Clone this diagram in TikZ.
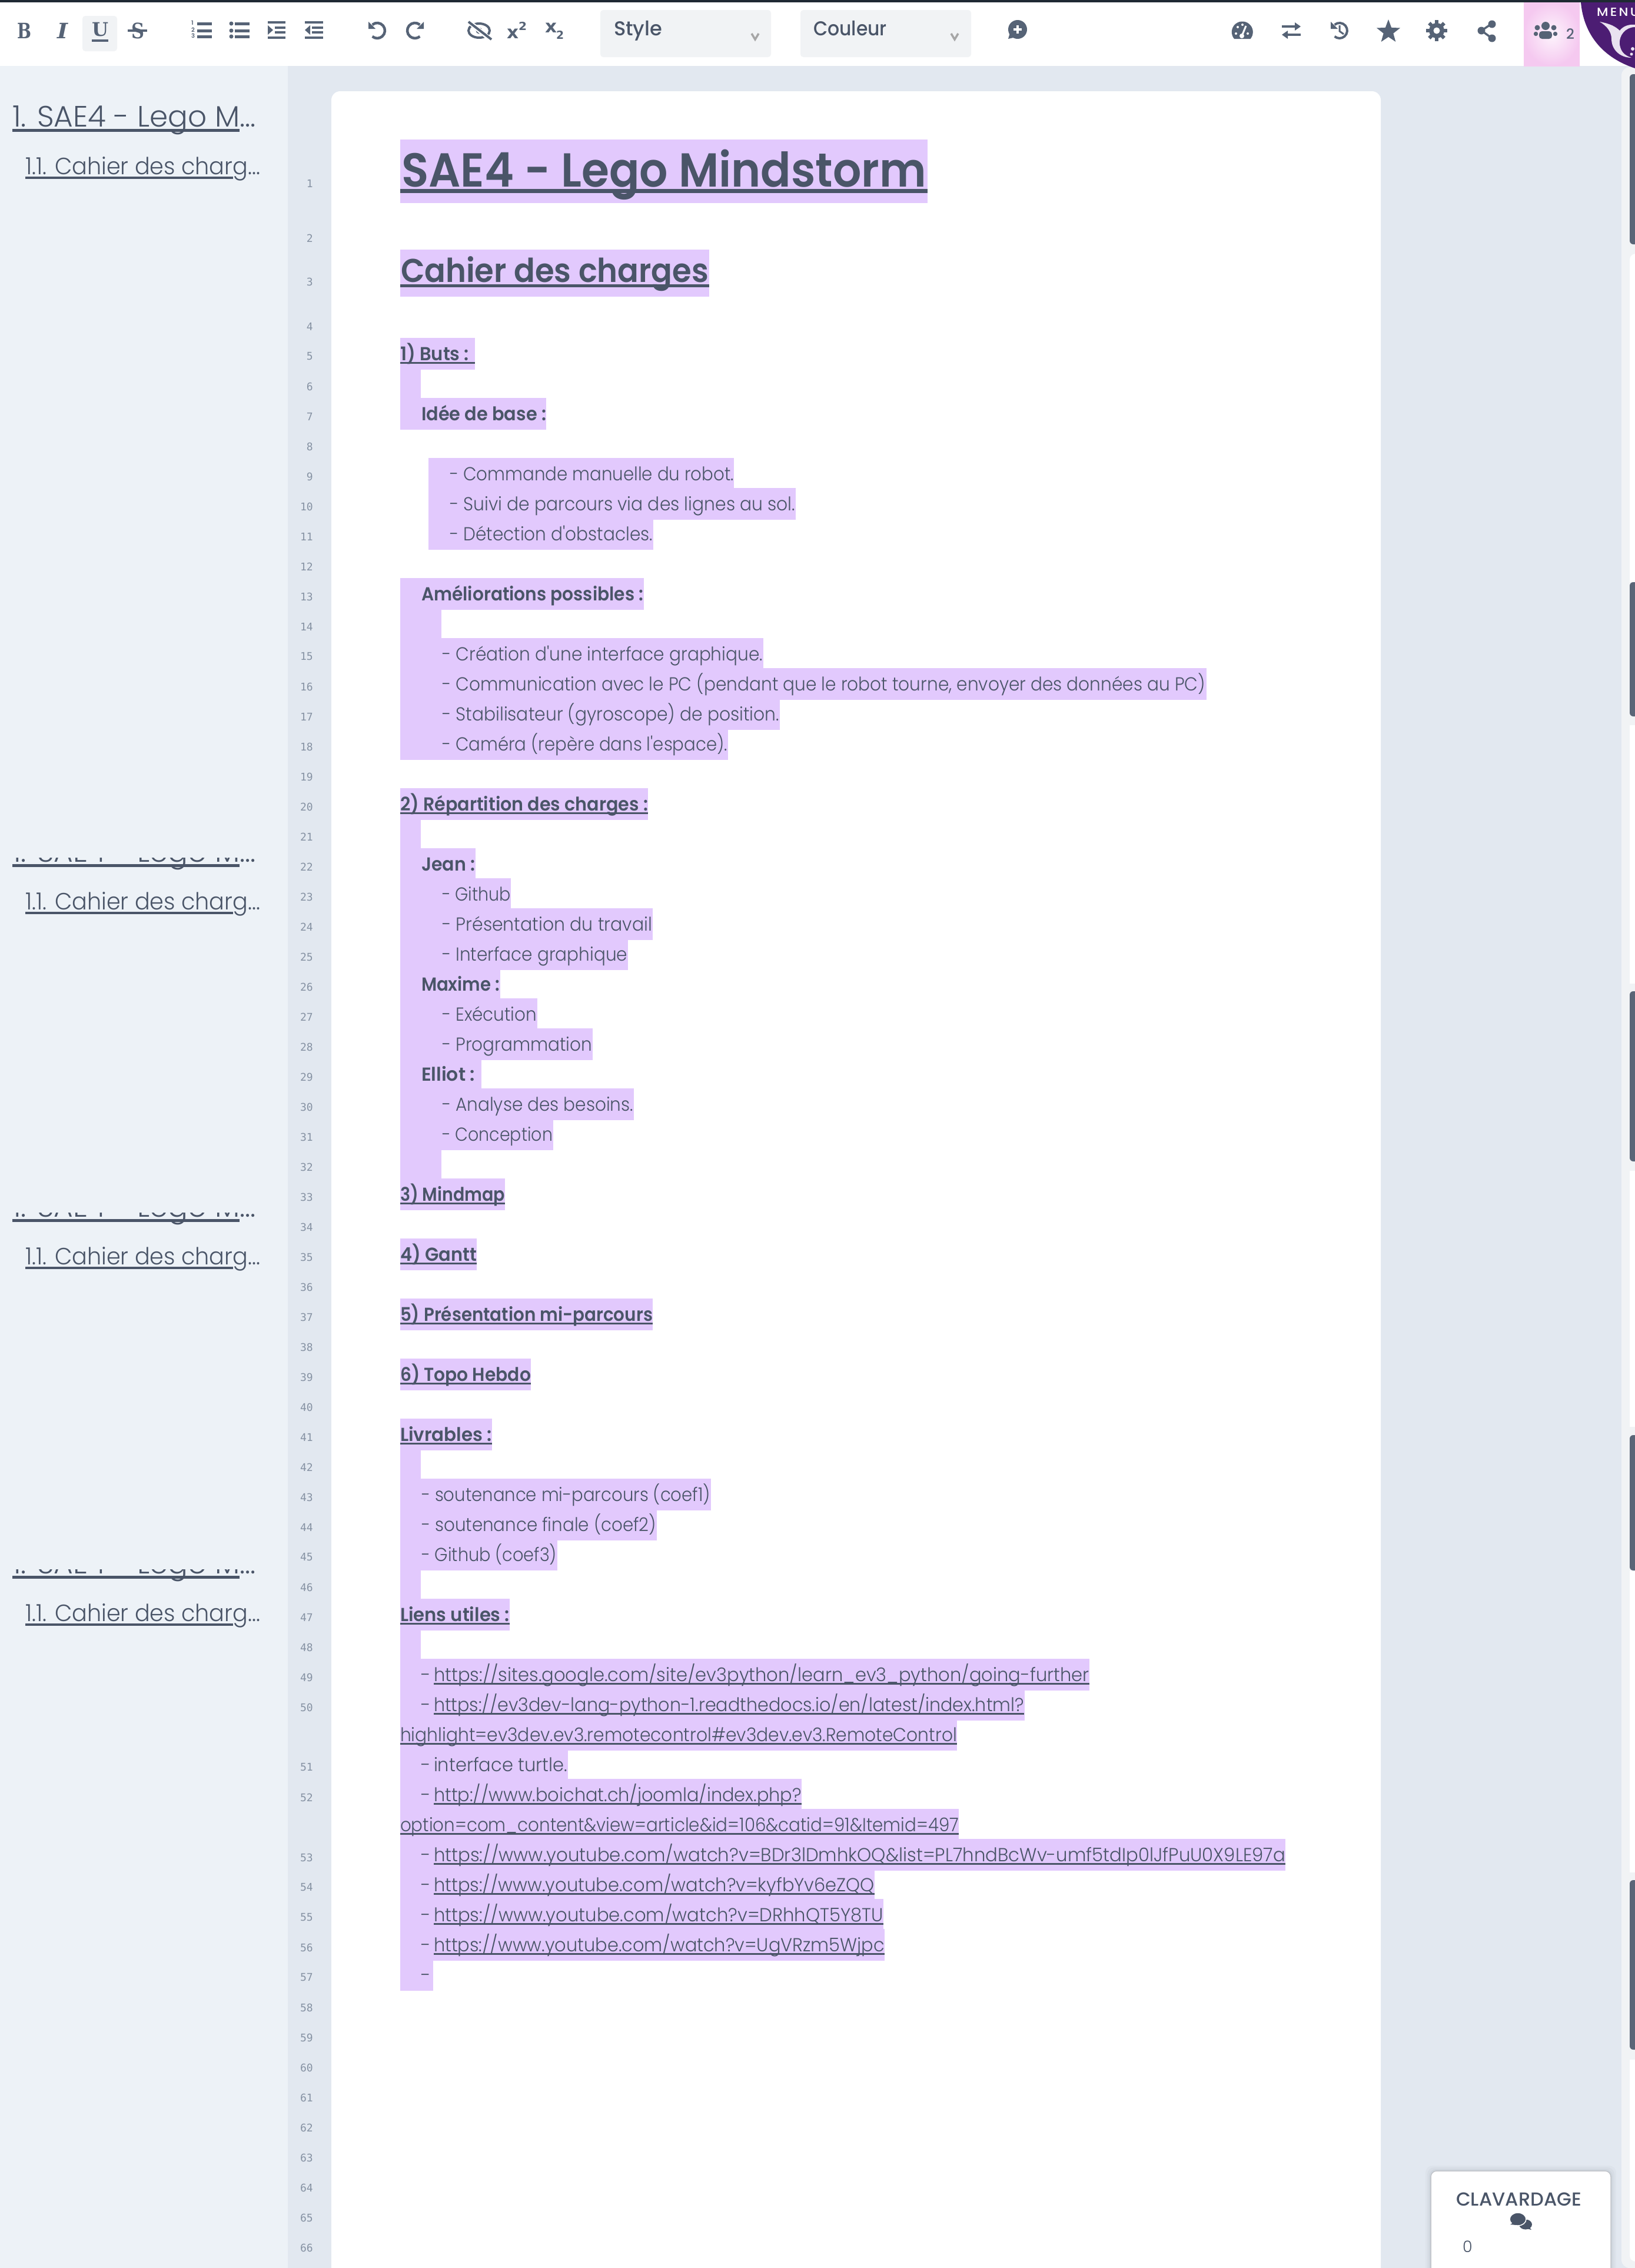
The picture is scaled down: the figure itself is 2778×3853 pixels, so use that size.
\documentclass[tikz,border=0pt]{standalone}
\usepackage{fontspec}
\usepackage{graphicx}
\usetikzlibrary{shapes.geometric}
\setmainfont{Poppins}
\newfontfamily\plig{Poppins Light}
\newfontfamily\pmed{Poppins Medium}
\newfontfamily\psem{Poppins SemiBold}
\newfontfamily\gm{DejaVu Sans Mono}
\newfontfamily\dsb{DejaVu Serif}
\newfontfamily\dss{DejaVu Sans}
\definecolor{ink}{HTML}{4A5568}
\definecolor{icn}{HTML}{566376}
\definecolor{hlc}{HTML}{E2C9FD}
\definecolor{bgm}{HTML}{E2E8F0}
\definecolor{bgs}{HTML}{EDF2F7}
\definecolor{trk}{HTML}{F1F3F5}
\definecolor{thb}{HTML}{5A6577}
\definecolor{gut}{HTML}{8692A3}
\definecolor{pinka}{HTML}{FDF4FC}
\definecolor{pinkb}{HTML}{F5C9F0}
\definecolor{logop}{HTML}{4C1D73}
\definecolor{logow}{HTML}{E9E2F0}
\definecolor{topb}{HTML}{1F2933}
\newcommand{\bodyf}{\plig\fontsize{32}{36}\selectfont}
\newcommand{\headf}{\psem\fontsize{32}{36}\selectfont}
\newcommand{\hlr}[4]{\fill[hlc] (#1,#3) rectangle (#2,#4);}
\newcommand{\tx}[5]{\pgfmathsetmacro{\tw}{#2-(#1)}%
  \node[txtn] at (#1,#3) {\resizebox{\tw pt}{\height}{#4#5}};}
\tikzset{txtn/.style={anchor=base west,inner sep=0pt,outer sep=0pt,text=ink},
  ics/.style={draw=icn,line width=4pt}}
\begin{document}
\begin{tikzpicture}[x=1pt,y=-1pt]
\useasboundingbox (0,0) rectangle (2778,3853);
% backgrounds
\fill[bgm] (0,0) rectangle (2778,3853);
\fill[bgs] (0,112) rectangle (489,3853);
\begin{scope}
\clip (0,0) rectangle (2778,3853);
\fill[white,rounded corners=15pt] (563,155) rectangle (2346,3900);
\end{scope}
\fill[white] (0,0) rectangle (2778,112);
\fill[topb] (0,0) rectangle (2778,4);
% right scrollbar
\begin{scope}
\clip (0,0) rectangle (2778,3853);
\fill[trk,rounded corners=14pt] (2755,114) rectangle (2800,3853);
\fill[white,rounded corners=10pt] (2769,431) rectangle (2800,3842);
\foreach \a/\b in {989/1232,1671/1989,2424/2668,3181/3499}{\fill[trk] (2769,\a) rectangle (2778,\b);}
\foreach \a/\b in {126/415,989/1217,1684/1973,2438/2668,3194/3482}{\fill[thb,rounded corners=6pt] (2769,\a) rectangle (2800,\b);}
\end{scope}
% toolbar : text style
\fill[trk,rounded corners=5pt] (140,27) rectangle (199,87);
\fill[trk,rounded corners=5pt] (1020,17) rectangle (1310,97);
\fill[trk,rounded corners=5pt] (1360,17) rectangle (1650,97);
\tx{30}{54}{65}{\dsb\bfseries\fontsize{36}{40}\selectfont\color{icn}}{B}
\tx{97}{115}{65}{\dsb\bfseries\itshape\fontsize{36}{40}\selectfont\color{icn}}{I}
\tx{156}{184}{61}{\dsb\bfseries\fontsize{32}{36}\selectfont\color{icn}}{U}
\fill[icn] (156,67) rectangle (184,71);
\tx{223}{245}{65}{\dsb\bfseries\fontsize{36}{40}\selectfont\color{icn}}{S}
\fill[icn] (217,50) rectangle (250,54);
% ordered list
\foreach \y in {40,52,62}{\fill[icn] (335,\y-2.5) rectangle (360,\y+2.5);}
\foreach \y/\t in {42/1,54/2,64/3}{\node[txtn,text=icn,font=\psem\fontsize{10}{10}\selectfont] at (325,\y) {\t};}
% unordered list
\foreach \y in {40,52,62}{\fill[icn] (399,\y-2.5) rectangle (424,\y+2.5); \fill[icn] (393,\y) circle[radius=3.5pt];}
% indent
\fill[icn] (455,36) rectangle (485,40); \fill[icn] (455,62) rectangle (485,66);
\fill[icn] (467,45) rectangle (485,49); \fill[icn] (467,53) rectangle (485,57);
\fill[icn] (455,43)--(464,51)--(455,59)--cycle;
% outdent
\fill[icn] (518,36) rectangle (549,40); \fill[icn] (518,62) rectangle (549,66);
\fill[icn] (530,45) rectangle (549,49); \fill[icn] (530,53) rectangle (549,57);
\fill[icn] (527,43)--(518,51)--(527,59)--cycle;
% undo / redo
\draw[ics,line width=4.5pt] (632.6,42) arc[start angle=130,end angle=-130,radius=13pt];
\fill[icn] (626,37)--(638,49)--(626,49)--cycle;
\draw[ics,line width=4.5pt] (713.4,42) arc[start angle=50,end angle=310,radius=13pt];
\fill[icn] (720,37)--(708,49)--(720,49)--cycle;
% eye slash
\draw[ics] (814,52) ellipse[x radius=18pt,y radius=12pt];
\fill[icn] (814,52) circle[radius=5.5pt];
\draw[white,line width=8pt] (798,38)--(832,66);
\draw[ics] (796,37)--(835,67);
% x^2 x_2
\tx{861}{881}{65}{\dss\bfseries\fontsize{30}{32}\selectfont\color{icn}}{x}
\tx{881}{895}{51}{\dss\bfseries\fontsize{19}{20}\selectfont\color{icn}}{2}
\tx{926}{946}{55}{\dss\bfseries\fontsize{30}{32}\selectfont\color{icn}}{x}
\tx{945}{958}{66}{\dss\bfseries\fontsize{19}{20}\selectfont\color{icn}}{2}
% selects
\tx{1043}{1125}{60}{\pmed\fontsize{34}{38}\selectfont}{Style}
\tx{1382}{1507}{60}{\pmed\fontsize{34}{38}\selectfont}{Couleur}
\draw[gray!70,line width=3.5pt] (1277,57)--(1283,67)--(1289,57);
\draw[gray!70,line width=3.5pt] (1616,57)--(1622,67)--(1628,57);
% comment plus
\fill[icn] (1729,50) circle[radius=16pt];
\fill[icn] (1716,56)--(1713,66)--(1726,63)--cycle;
\draw[white,line width=4pt] (1729,43)--(1729,57) (1722,50)--(1736,50);
% tachometer
\fill[icn] (2097,66) arc[start angle=220,end angle=-40,radius=18pt] -- cycle;
\draw[white,line width=3pt] (2110,61)--(2117,44);
\fill[white] (2110,61) circle[radius=4pt] (2100,57) circle[radius=2pt] (2103,46) circle[radius=2pt] (2111,42) circle[radius=2pt] (2120,57) circle[radius=2pt];
% exchange
\fill[icn] (2178,43) rectangle (2200,47); \fill[icn] (2200,38)--(2210,45)--(2200,52)--cycle;
\fill[icn] (2188,57) rectangle (2210,61); \fill[icn] (2188,52)--(2178,59)--(2188,66)--cycle;
% history
\draw[ics] (2267.6,42) arc[start angle=130,end angle=-130,radius=13pt];
\fill[icn] (2261,37)--(2273,49)--(2261,49)--cycle;
\draw[icn,line width=3pt] (2276,43)--(2276,53)--(2283,58);
% star
\node[star,star points=5,star point ratio=2.4,fill=icn,minimum size=42pt,inner sep=0pt] (favstar) at (2359,54) {};
% cog
\coordinate (cogc) at (2441,52);
\fill[icn] (cogc) circle[radius=13pt];
\foreach \a in {0,45,...,315}{\draw[icn,line width=6pt] ([shift={(\a:10pt)}]cogc) -- ([shift={(\a:18pt)}]cogc);}
\fill[white] (cogc) circle[radius=5.5pt];
% share
\draw[icn,line width=3.5pt] (2535,40)--(2517,52)--(2535,65);
\fill[icn] (2535,41) circle[radius=6.5pt] (2517,52) circle[radius=6.5pt] (2535,65) circle[radius=6.5pt];
% users box
\shade[inner color=pinka,outer color=pinkb] (2589,4) rectangle (2684,112);
\fill[icn] (2626,44) circle[radius=7pt] (2612,47) circle[radius=4.5pt] (2640,47) circle[radius=4.5pt];
\fill[icn,rounded corners=5pt] (2615,53) rectangle (2637,66);
\fill[icn,rounded corners=3pt] (2606,54) rectangle (2613,61);
\fill[icn,rounded corners=3pt] (2639,54) rectangle (2646,61);
\node[txtn,text=icn,font=\pmed\fontsize{24}{26}\selectfont] at (2661,66) {2};
% logo
\begin{scope}
\clip (2680,4) rectangle (2778,125);
\fill[logop] (2686,4) .. controls (2690,50) and (2715,95) .. (2778,116) -- (2790,4) -- cycle;
\node[txtn,text=white,font=\pmed\fontsize{20}{22}\selectfont] at (2713,27) {\resizebox{72pt}{\height}{M\hspace{3pt}E\hspace{3pt}N\hspace{3pt}U}};
\fill[logow] (2718,37) .. controls (2735,40) and (2745,45) .. (2752,52) .. controls (2758,44) and (2768,41) .. (2778,42) -- (2778,46) .. controls (2762,46) and (2750,60) .. (2752,76) .. controls (2754,88) and (2760,94) .. (2772,98) .. controls (2752,98) and (2738,84) .. (2738,66) .. controls (2738,54) and (2730,44) .. (2718,37) -- cycle;
\fill[logow] (2774,83) circle[radius=3pt] (2772,92) circle[radius=2.5pt];
\end{scope}
% gutter numbers
\foreach \n/\y in {1/312,2/405,3/479,4/555}{\node[anchor=east,inner sep=0pt,text=gut,font=\gm\fontsize{18}{20}\selectfont] at (532,\y) {\n};}
\foreach \n in {5,...,66}{\pgfmathsetmacro{\yy}{605.5+51*(\n-5)+(\n>50)*51+(\n>52)*51}
  \node[anchor=east,inner sep=0pt,text=gut,font=\gm\fontsize{18}{20}\selectfont] at (532,\yy) {\n};}
% sidebar
\tx{21}{435}{215}{\plig\fontsize{50}{54}\selectfont}{1. SAE4 - Lego M...}
\fill[ink] (21,219) rectangle (407,224);
\foreach \b in {296,1545,2148,2754}{
  \tx{43}{442}{\b}{\plig\fontsize{40}{44}\selectfont}{1.1. Cahier des charg...}
  \fill[ink] (43,\b+4) rectangle (396,\b+8);
}
\foreach \b in {1545,2148,2754}{
  \begin{scope}
  \clip (0,\b-88) rectangle (488,\b-55);
  \tx{21}{435}{\b-81}{\plig\fontsize{50}{54}\selectfont}{1. SAE4 - Lego M...}
  \fill[ink] (21,\b-77) rectangle (407,\b-72);
  \end{scope}
}
% highlights
\hlr{680}{1576}{237}{345}
\hlr{680}{1205}{424}{504}
\hlr{680}{807}{574}{628}
\hlr{680}{715}{628}{676}
\hlr{680}{928}{676}{730}
\hlr{728}{1247}{778}{829}
\hlr{728}{1352}{829}{883}
\hlr{728}{1110}{883}{934}
\hlr{680}{1093.5}{982}{1036}
\hlr{680}{750}{1036}{1084}
\hlr{680}{1297}{1084}{1135}
\hlr{680}{2049.5}{1135}{1189}
\hlr{680}{1325}{1189}{1240}
\hlr{680}{1237}{1240}{1291}
\hlr{680}{1101}{1339}{1393}
\hlr{680}{715}{1393}{1441}
\hlr{680}{808}{1441}{1492}
\hlr{680}{868}{1492}{1543}
\hlr{680}{1109}{1543}{1597}
\hlr{680}{1067}{1597}{1648}
\hlr{680}{850}{1648}{1696}
\hlr{680}{913}{1696}{1747}
\hlr{680}{1007}{1747}{1801}
\hlr{680}{818}{1801}{1849}
\hlr{680}{1076.5}{1849}{1903}
\hlr{680}{940}{1903}{1954}
\hlr{680}{750}{1954}{2002}
\hlr{680}{858}{2002}{2056}
\hlr{680}{810}{2104}{2158}
\hlr{680}{1109}{2206}{2260}
\hlr{680}{902}{2308}{2362}
\hlr{680}{836}{2410}{2464}
\hlr{680}{715}{2464}{2512}
\hlr{680}{1208}{2512}{2566}
\hlr{680}{1116}{2566}{2617}
\hlr{680}{947}{2617}{2668}
\hlr{680}{715}{2668}{2716}
\hlr{680}{866}{2716}{2770}
\hlr{680}{715}{2770}{2818}
\hlr{680}{1851}{2818}{2872}
\hlr{680}{1740.6}{2872}{2923}
\hlr{680}{1626}{2923}{2974}
\hlr{680}{964.5}{2974}{3022}
\hlr{680}{1362}{3022}{3073}
\hlr{680}{1629}{3073}{3124}
\hlr{680}{2184}{3124}{3178}
\hlr{680}{1486}{3178}{3226}
\hlr{680}{1501}{3226}{3277}
\hlr{680}{1503}{3277}{3331}
\hlr{680}{736}{3331}{3382}
% headings
\fill[ink] (680,321) rectangle (1576,328);
\tx{682}{1574}{317}{\psem\fontsize{81}{90}\selectfont}{SAE4 - Lego Mindstorm}
\fill[ink] (680,483) rectangle (1205,488);
\tx{681}{1204}{479}{\psem\fontsize{56}{62}\selectfont}{Cahier des charges}
% underlined section titles
\foreach \bl/\xa/\xb/\t in {612/797/807/{1) Buts :},1377/1101/1101/{2) R\'epartition des charges :},2040/858/858/{3) Mindmap},2142/810/810/{4) Gantt},2244/1109/1109/{5) Pr\'esentation mi-parcours},2346/902/902/{6) Topo Hebdo},2448/836/836/{Livrables :},2754/866/866/{Liens utiles :}}{
  \fill[ink] (680,\bl+2.5) rectangle (\xb,\bl+5.5);
  \tx{680}{\xa}{\bl}{\headf}{\t}
}
% bold labels
\tx{716}{928}{714}{\headf}{Id\'ee de base :}
\tx{716}{1093}{1020}{\headf}{Am\'eliorations possibles :}
\tx{716}{807}{1479}{\headf}{Jean :}
\tx{716}{849}{1683}{\headf}{Maxime :}
\tx{716}{807}{1836}{\headf}{Elliot :}
% body lines
\tx{764}{1247}{816}{\bodyf}{- Commande manuelle du robot.}
\tx{764}{1351}{867}{\bodyf}{- Suivi de parcours via des lignes au sol.}
\tx{764}{1109}{918}{\bodyf}{- D\'etection d'obstacles.}
\tx{751}{1296}{1122}{\bodyf}{- Cr\'eation d'une interface graphique.}
\tx{751}{2048}{1173}{\bodyf}{- Communication avec le PC (pendant que le robot tourne, envoyer des donn\'ees au PC)}
\tx{751}{1324}{1224}{\bodyf}{- Stabilisateur (gyroscope) de position.}
\tx{751}{1236}{1275}{\bodyf}{- Cam\'era (rep\`ere dans l'espace).}
\tx{751}{868}{1530}{\bodyf}{- Github}
\tx{751}{1108}{1581}{\bodyf}{- Pr\'esentation du travail}
\tx{751}{1066}{1632}{\bodyf}{- Interface graphique}
\tx{751}{912}{1734}{\bodyf}{- Ex\'ecution}
\tx{751}{1006}{1785}{\bodyf}{- Programmation}
\tx{751}{1076}{1887}{\bodyf}{- Analyse des besoins.}
\tx{751}{939}{1938}{\bodyf}{- Conception}
\tx{716}{1207}{2550}{\bodyf}{- soutenance mi-parcours (coef1)}
\tx{716}{1115}{2601}{\bodyf}{- soutenance finale (coef2)}
\tx{716}{946}{2652}{\bodyf}{- Github (coef3)}
% links
\foreach \bl/\xa/\xb/\t in {
 2856/737/1851/{https://sites.google.com/site/ev3python/learn\_ev3\_python/going-further},
 2907/737/1740/{https://ev3dev-lang-python-1.readthedocs.io/en/latest/index.html?},
 2958/680/1626/{highlight=ev3dev.ev3.remotecontrol\#ev3dev.ev3.RemoteControl},
 3060/737/1362/{http://www.boichat.ch/joomla/index.php?},
 3111/680/1629/{option=com\_content\&view=article\&id=106\&catid=91\&Itemid=497},
 3162/737/2184/{https://www.youtube.com/watch?v=BDr3lDmhkOQ\&list=PL7hndBcWv-umf5tdIp0lJfPuU0X9LE97a},
 3213/737/1486/{https://www.youtube.com/watch?v=kyfbYv6eZQQ},
 3264/737/1501/{https://www.youtube.com/watch?v=DRhhQT5Y8TU},
 3315/737/1503/{https://www.youtube.com/watch?v=UgVRzm5Wjpc}}{
  \fill[ink] (\xa,\bl+2.5) rectangle (\xb,\bl+5.5);
  \tx{\xa}{\xb}{\bl}{\bodyf}{\t}
}
\foreach \bl in {2856,2907,3009,3060,3162,3213,3264,3315,3366}{
  \node[txtn,font=\bodyf] at (715,\bl) {-};
}
\tx{737}{964}{3009}{\bodyf}{interface turtle.}
% chat card
\begin{scope}
\clip (0,0) rectangle (2778,3853);
\foreach \d/\o in {9/.03,6/.04,3/.05}{\fill[ink,opacity=\o,rounded corners=12pt] (2431-\d,3688-\d) rectangle (2737+\d,3880);}
\fill[white,draw=gray!35!bgm,line width=1.5pt,rounded corners=10pt] (2431,3688) rectangle (2737,3880);
\end{scope}
\tx{2474}{2687}{3747}{\pmed\fontsize{32}{36}\selectfont}{CLAVARDAGE}
\fill[ink] (2592,3779) ellipse[x radius=11pt,y radius=8.5pt];
\fill[ink] (2598,3783)--(2602,3788)--(2593,3786)--cycle;
\fill[ink,draw=white,line width=1.5pt] (2579,3770) ellipse[x radius=14pt,y radius=11pt];
\fill[ink] (2571,3776)--(2566,3779)--(2576,3780)--cycle;
\node[txtn,font=\plig\fontsize{27}{30}\selectfont] at (2485,3826) {0};
\end{tikzpicture}
\end{document}
